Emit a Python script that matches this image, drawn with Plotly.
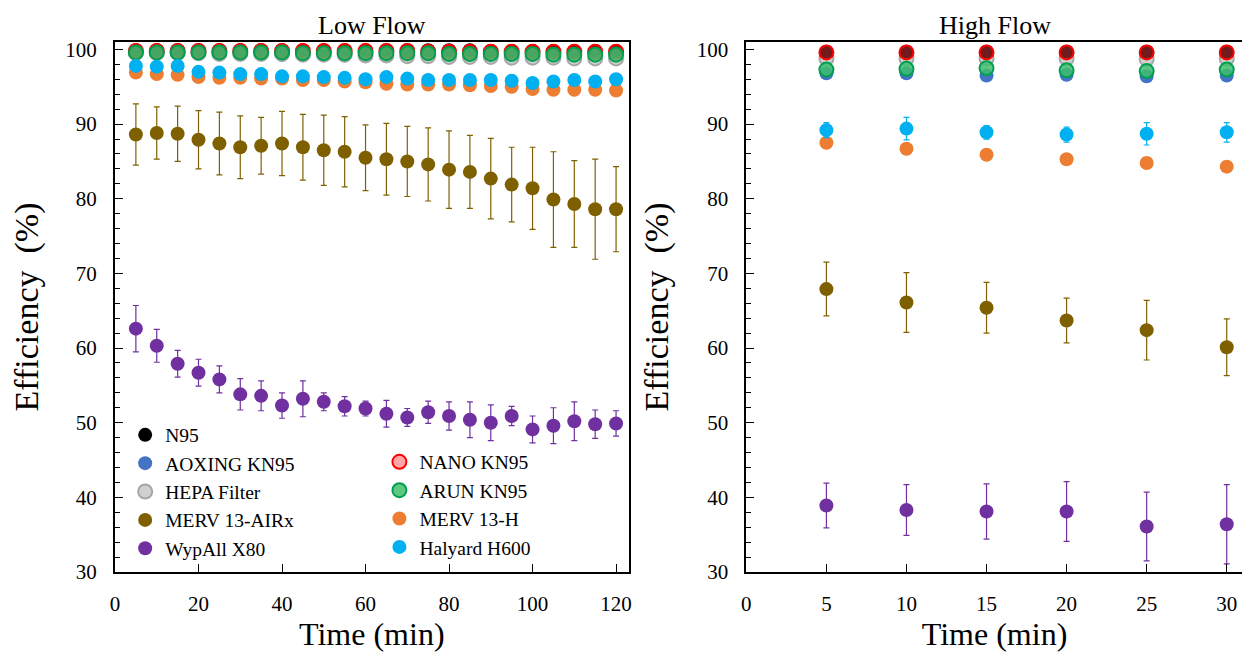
import plotly.graph_objects as go

# Low flow data (time in minutes)
time_low = [5, 10, 15, 20, 25, 30, 35, 40, 45, 50, 55, 60,
            65, 70, 75, 80, 85, 90, 95, 100, 105, 110, 115, 120]

n95_low = [99.9, 99.9, 99.9, 99.9, 99.9, 99.9, 99.9, 99.9, 99.9, 99.9, 99.9, 99.9,
           99.9, 99.9, 99.9, 99.9, 99.9, 99.8, 99.8, 99.8, 99.8, 99.8, 99.8, 99.8]
nano_low = [99.8, 99.8, 99.8, 99.8, 99.8, 99.8, 99.8, 99.8, 99.8, 99.8, 99.8, 99.8,
            99.8, 99.8, 99.7, 99.7, 99.7, 99.7, 99.7, 99.7, 99.7, 99.7, 99.7, 99.7]
arun_low = [99.6, 99.6, 99.6, 99.6, 99.6, 99.6, 99.6, 99.6, 99.5, 99.5, 99.5, 99.5,
            99.5, 99.5, 99.5, 99.4, 99.4, 99.4, 99.4, 99.4, 99.3, 99.3, 99.3, 99.3]
aoxing_low = [99.5, 99.5, 99.5, 99.4, 99.4, 99.4, 99.4, 99.3, 99.3, 99.3, 99.2, 99.2,
              99.2, 99.1, 99.1, 99.0, 99.0, 99.0, 98.9, 98.9, 98.9, 98.8, 98.8, 98.8]
hepa_low = [99.5, 99.5, 99.5, 99.5, 99.4, 99.4, 99.4, 99.4, 99.3, 99.3, 99.3, 99.2,
            99.2, 99.1, 99.1, 99.0, 99.0, 99.0, 98.9, 98.9, 98.9, 98.8, 98.8, 98.8]
hepa_low_err = [0.2, 0.2, 0.2, 0.3, 0.3, 0.3, 0.3, 0.4, 0.4, 0.4, 0.5, 0.5,
                0.6, 0.6, 0.7, 0.7, 0.8, 0.8, 0.8, 0.9, 0.9, 0.9, 0.9, 0.9]
mervh_low = [96.9, 96.7, 96.6, 96.3, 96.2, 96.2, 96.1, 96.1, 95.9, 95.9, 95.7, 95.6,
             95.4, 95.3, 95.3, 95.3, 95.2, 95.1, 95.0, 94.7, 94.6, 94.6, 94.6, 94.5]
mervh_low_err = [0.2, 0.2, 0.2, 0.2, 0.2, 0.2, 0.2, 0.2, 0.2, 0.2, 0.2, 0.2,
                 0.3, 0.3, 0.3, 0.3, 0.3, 0.3, 0.3, 0.3, 0.3, 0.3, 0.4, 0.3]
halyard_low = [97.8, 97.7, 97.8, 97.0, 96.9, 96.7, 96.7, 96.4, 96.4, 96.3, 96.2, 96.0,
               96.3, 96.1, 95.9, 95.9, 95.9, 95.9, 95.8, 95.5, 95.7, 95.9, 95.7, 96.0]
halyard_low_err = [0.1, 0.1, 0.1, 0.1, 0.1, 0.1, 0.1, 0.1, 0.1, 0.1, 0.1, 0.1,
                   0.2, 0.2, 0.2, 0.2, 0.2, 0.2, 0.2, 0.3, 0.4, 0.6, 0.4, 0.3]
airx_low = [88.6, 88.8, 88.7, 87.9, 87.4, 86.9, 87.1, 87.4, 86.9, 86.5, 86.3, 85.5,
            85.3, 85.0, 84.6, 83.9, 83.6, 82.7, 81.9, 81.4, 79.9, 79.3, 78.6, 78.6]
airx_low_err = [4.1, 3.5, 3.7, 3.9, 4.2, 4.2, 3.8, 4.3, 4.4, 4.7, 4.7, 4.4,
                4.8, 4.7, 4.9, 5.2, 4.9, 5.4, 5.0, 5.5, 6.4, 5.8, 6.7, 5.7]
wypall_low = [62.6, 60.3, 57.9, 56.7, 55.8, 53.8, 53.6, 52.3, 53.2, 52.8, 52.2, 51.9,
              51.2, 50.7, 51.4, 50.9, 50.4, 50.0, 50.9, 49.1, 49.6, 50.2, 49.8, 49.9]
wypall_low_err = [3.1, 2.2, 1.8, 1.8, 1.8, 2.1, 2.0, 1.7, 2.4, 1.2, 1.3, 1.0,
                  1.8, 1.2, 1.5, 1.9, 2.4, 2.4, 1.3, 1.8, 2.4, 2.6, 1.9, 1.7]

# High flow data
time_high = [5, 10, 15, 20, 25, 30]

n95_high = [99.7, 99.7, 99.7, 99.7, 99.7, 99.7]
nano_high = [99.6, 99.6, 99.6, 99.6, 99.6, 99.6]
hepa_high = [98.8, 98.8, 98.8, 98.8, 98.7, 98.8]
arun_high = [97.3, 97.4, 97.5, 97.2, 97.1, 97.3]
aoxing_high = [96.8, 96.8, 96.5, 96.6, 96.4, 96.5]
halyard_high = [89.2, 89.4, 88.9, 88.6, 88.7, 88.9]
halyard_high_err = [1.0, 1.5, 0.9, 1.0, 1.5, 1.3]
mervh_high = [87.5, 86.7, 85.9, 85.3, 84.8, 84.3]
airx_high = [67.9, 66.1, 65.4, 63.7, 62.4, 60.1]
airx_high_err = [3.6, 4.0, 3.4, 3.0, 4.0, 3.8]
wypall_high = [38.9, 38.3, 38.1, 38.1, 36.1, 36.4]
wypall_high_err = [3.0, 3.4, 3.7, 4.0, 4.6, 5.3]

FONT = "Liberation Serif"

# name, fill, outline, legend, rank, low y, low err, high y, high err
series = [
    ("AOXING KN95", "#4472C4", "#4472C4", "legend", 2, aoxing_low, None, aoxing_high, None),
    ("HEPA Filter", "#D0D0D0", "#A6A6A6", "legend", 3, hepa_low, hepa_low_err, hepa_high, None),
    ("N95", "#000000", "#000000", "legend", 1, n95_low, None, n95_high, None),
    ("NANO KN95", "rgba(255,60,60,0.45)", "#FF0000", "legend2", 6, nano_low, None, nano_high, None),
    ("ARUN KN95", "rgba(64,190,110,0.85)", "#00A050", "legend2", 7, arun_low, None, arun_high, None),
    ("MERV 13-H", "#ED7D31", "#ED7D31", "legend2", 8, mervh_low, mervh_low_err, mervh_high, None),
    ("Halyard H600", "#00B0F0", "#00B0F0", "legend2", 9, halyard_low, halyard_low_err, halyard_high, halyard_high_err),
    ("MERV 13-AIRx", "#7F6000", "#7F6000", "legend", 4, airx_low, airx_low_err, airx_high, airx_high_err),
    ("WypAll X80", "#7030A0", "#7030A0", "legend", 5, wypall_low, wypall_low_err, wypall_high, wypall_high_err),
]

fig = go.Figure()

for name, fill, outline, leg, rank, y_low, e_low, y_high, e_high in series:
    line_w = 2 if outline != fill else 0
    for xs, ys, errs, xa, ya, show in [
        (time_low, y_low, e_low, "x", "y", True),
        (time_high, y_high, e_high, "x2", "y2", False),
    ]:
        fig.add_trace(
            go.Scatter(
                x=xs,
                y=ys,
                mode="markers",
                name=name,
                legend=leg,
                legendrank=rank,
                showlegend=show,
                xaxis=xa,
                yaxis=ya,
                marker=dict(size=14, color=fill, line=dict(color=outline, width=line_w)),
                error_y=dict(
                    type="data",
                    array=errs,
                    visible=errs is not None,
                    color=outline,
                    thickness=1.2,
                    width=3,
                ),
            )
        )

axis_common = dict(
    showline=True,
    linecolor="black",
    linewidth=2,
    mirror=True,
    ticks="inside",
    ticklen=8,
    tickcolor="black",
    tickwidth=1,
    showgrid=False,
    zeroline=False,
    tickfont=dict(family=FONT, size=21, color="black"),
    ticklabelstandoff=12,
)

y_common = dict(
    axis_common,
    range=[30, 101],
    tickvals=[30, 40, 50, 60, 70, 80, 90, 100],
    minor=dict(ticks="inside", ticklen=5, dtick=2, tickcolor="black"),
    title=dict(text="Efficiency\u00a0\u00a0(%)", font=dict(family=FONT, size=34, color="black"), standoff=18),
)

# page body adds an 8px offset, so the figure is sized to fit inside the window
fig.update_layout(
    width=1242,
    height=646,
    plot_bgcolor="white",
    paper_bgcolor="white",
    margin=dict(l=107, r=2, t=34, b=82),
    font=dict(family=FONT, color="black"),
    xaxis=dict(
        axis_common,
        domain=[0, 0.4545],
        range=[0, 123],
        tickvals=[0, 20, 40, 60, 80, 100, 120],
        anchor="y",
        title=dict(text="Time (min)", font=dict(family=FONT, size=32, color="black"), standoff=2),
    ),
    xaxis2=dict(
        axis_common,
        domain=[0.5587, 0.998],
        range=[0, 31],
        tickvals=[0, 5, 10, 15, 20, 25, 30],
        anchor="y2",
        title=dict(text="Time (min)", font=dict(family=FONT, size=32, color="black"), standoff=2),
    ),
    yaxis=dict(y_common, anchor="x"),
    yaxis2=dict(y_common, anchor="x2"),
    legend=dict(
        x=0.009, y=0.295, xanchor="left", yanchor="top",
        font=dict(family=FONT, size=19.5, color="black"),
        bgcolor="rgba(0,0,0,0)", itemwidth=30, tracegroupgap=0,
    ),
    legend2=dict(
        x=0.234, y=0.244, xanchor="left", yanchor="top",
        font=dict(family=FONT, size=19.5, color="black"),
        bgcolor="rgba(0,0,0,0)", itemwidth=30, tracegroupgap=0,
    ),
    annotations=[
        dict(text="Low Flow", x=0.2272, y=1, xref="paper", yref="paper",
             xanchor="center", yanchor="bottom", showarrow=False, yshift=0,
             font=dict(family=FONT, size=26, color="black")),
        dict(text="High Flow", x=0.7784, y=1, xref="paper", yref="paper",
             xanchor="center", yanchor="bottom", showarrow=False, yshift=0,
             font=dict(family=FONT, size=26, color="black")),
    ],
)

fig.write_html("out.html")
